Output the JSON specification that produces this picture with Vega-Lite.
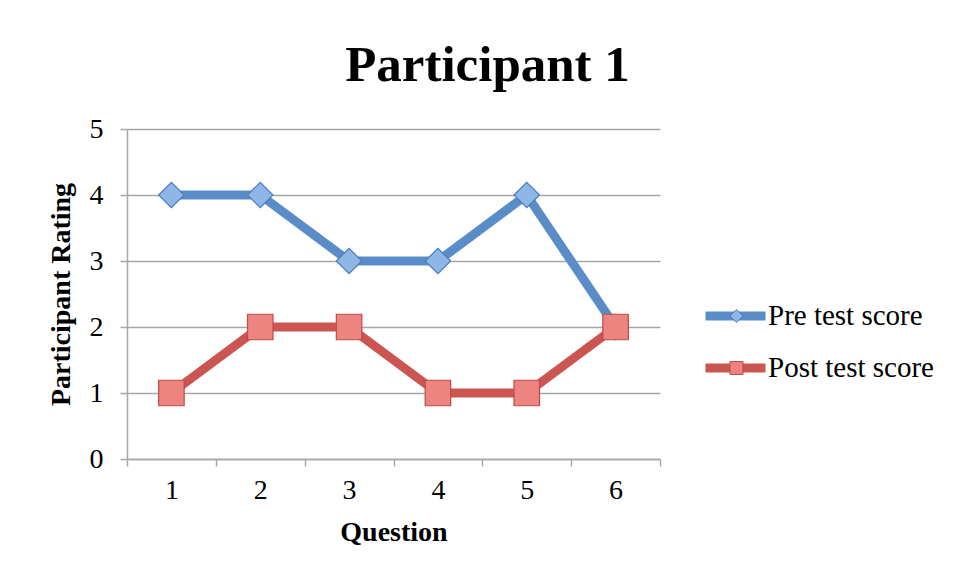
{
  "$schema": "https://vega.github.io/schema/vega-lite/v6.json",
  "width": 533,
  "height": 330,
  "autosize": {"type": "none"},
  "padding": {"left": 127, "top": 129, "right": 297, "bottom": 123},
  "background": "white",
  "title": {
    "text": "Participant 1",
    "font": "Liberation Serif",
    "fontSize": 51,
    "fontWeight": "bold",
    "color": "black",
    "anchor": "middle",
    "frame": "group",
    "dx": 94,
    "baseline": "alphabetic",
    "offset": -17
  },
  "data": {
    "values": [
      {"Question": "1", "Series": "Pre test score", "Rating": 4},
      {"Question": "2", "Series": "Pre test score", "Rating": 4},
      {"Question": "3", "Series": "Pre test score", "Rating": 3},
      {"Question": "4", "Series": "Pre test score", "Rating": 3},
      {"Question": "5", "Series": "Pre test score", "Rating": 4},
      {"Question": "6", "Series": "Pre test score", "Rating": 2},
      {"Question": "1", "Series": "Post test score", "Rating": 1},
      {"Question": "2", "Series": "Post test score", "Rating": 2},
      {"Question": "3", "Series": "Post test score", "Rating": 2},
      {"Question": "4", "Series": "Post test score", "Rating": 1},
      {"Question": "5", "Series": "Post test score", "Rating": 1},
      {"Question": "6", "Series": "Post test score", "Rating": 2}
    ]
  },
  "encoding": {
    "x": {
      "field": "Question",
      "type": "ordinal",
      "bandPosition": 0.5,
      "scale": {"type": "band", "paddingInner": 0, "paddingOuter": 0},
      "axis": {
        "title": "Question",
        "labelAngle": 0,
        "tickBand": "extent",
        "grid": false,
        "labelPadding": 10,
        "titlePadding": 14
      }
    },
    "y": {
      "field": "Rating",
      "type": "quantitative",
      "scale": {"domain": [0, 5], "nice": false, "zero": true},
      "axis": {
        "title": "Participant Rating",
        "values": [0, 1, 2, 3, 4, 5],
        "grid": true,
        "labelPadding": 17,
        "titlePadding": 14
      }
    }
  },
  "layer": [
    {
      "mark": {"type": "line", "strokeWidth": 9, "strokeCap": "round", "strokeJoin": "round"},
      "encoding": {
        "color": {
          "field": "Series",
          "type": "nominal",
          "scale": {"domain": ["Pre test score", "Post test score"], "range": ["#5A8DC8", "#CB5551"]},
          "legend": {
            "title": null,
            "orient": "none",
            "legendX": 574,
            "legendY": 161,
            "padding": 0,
            "symbolType": "stroke",
            "symbolSize": 3600,
            "symbolStrokeWidth": 9,
            "clipHeight": 52,
            "rowPadding": 0,
            "labelOffset": -2,
            "labelFont": "Liberation Serif",
            "labelFontSize": 29,
            "labelColor": "black",
            "labelLimit": 300
          }
        },
        "order": {"field": "Question", "type": "ordinal"}
      }
    },
    {
      "mark": {"type": "point", "filled": true, "opacity": 1, "strokeWidth": 1.2, "size": 650},
      "encoding": {
        "shape": {
          "field": "Series",
          "type": "nominal",
          "sort": "descending",
          "scale": {"range": ["diamond", "square"]},
          "legend": {
            "title": null,
            "orient": "none",
            "legendX": 595,
            "legendY": 161,
            "padding": 0,
            "symbolSize": 170,
            "symbolStrokeWidth": 1,
            "clipHeight": 52,
            "rowPadding": 0,
            "labelOffset": 0,
            "labelExpr": "' '",
            "labelFont": "Liberation Serif",
            "labelFontSize": 29,
            "labelColor": "rgba(0,0,0,0)",
            "labelOpacity": 0,
            "labelLimit": 300
          }
        },
        "fill": {
          "field": "Series",
          "type": "nominal",
          "sort": "descending",
          "scale": {"range": ["#8EB6E6", "#EE8480"]}
        },
        "stroke": {
          "field": "Series",
          "type": "nominal",
          "sort": "descending",
          "scale": {"range": ["#4A7EBB", "#BE4B48"]}
        }
      }
    }
  ],
  "config": {
    "view": {"stroke": null},
    "axis": {
      "domainColor": "#A6A6A6",
      "domainWidth": 1.5,
      "tickColor": "#A6A6A6",
      "tickWidth": 1.5,
      "tickSize": 7,
      "gridColor": "#A6A6A6",
      "gridWidth": 1.5,
      "labelFont": "Liberation Serif",
      "labelFontSize": 28,
      "labelColor": "black",
      "titleFont": "Liberation Serif",
      "titleFontSize": 28,
      "titleFontWeight": "bold",
      "titleColor": "black"
    }
  }
}
